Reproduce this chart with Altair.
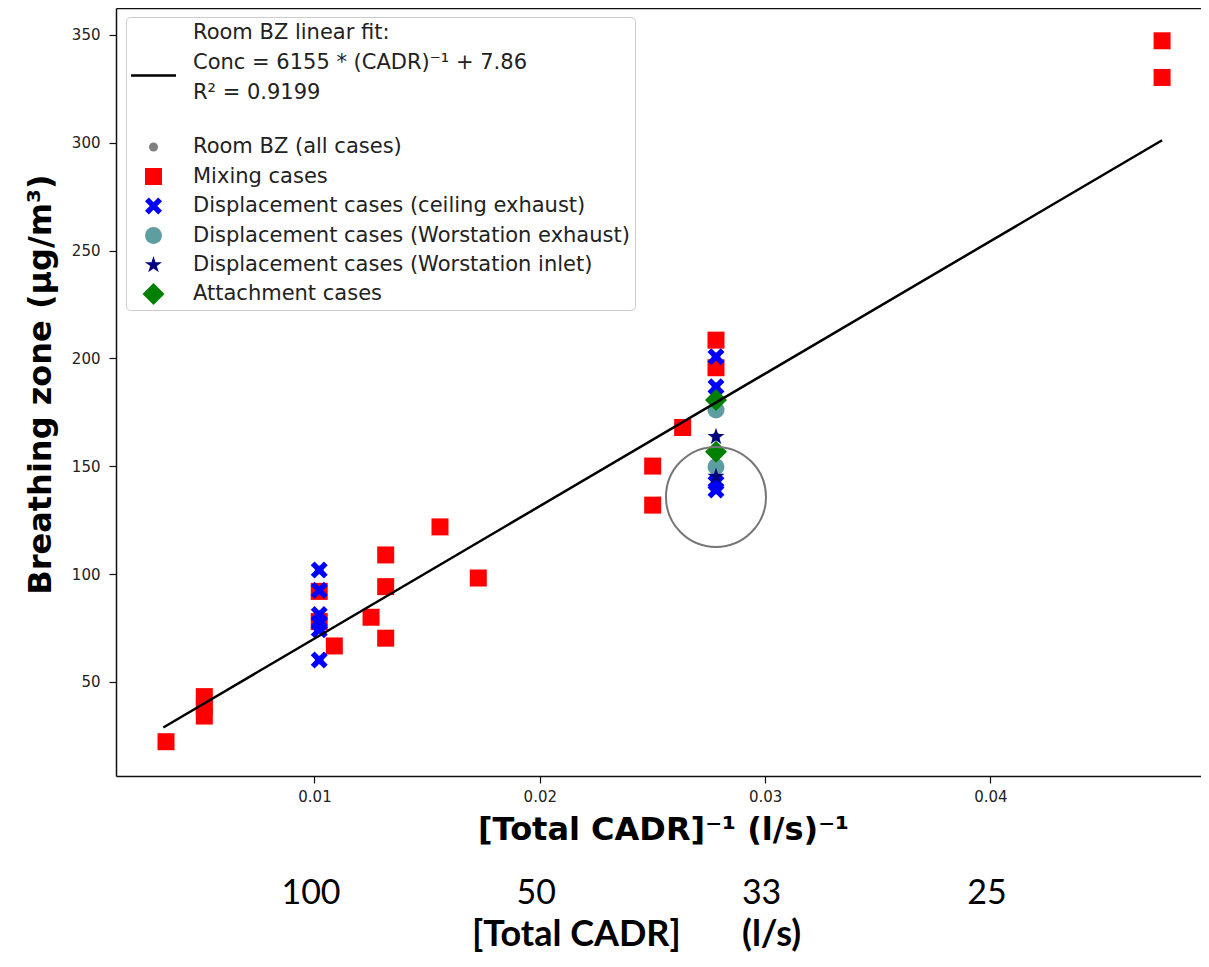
import altair as alt
import pandas as pd

# ---------------- data ----------------
# Mixing cases (red squares)
mix_x = [0.04762, 0.04762, 0.02782, 0.02782, 0.02634, 0.02501, 0.02501, 0.01557,
         0.01727, 0.01316, 0.01316, 0.01251, 0.01316, 0.01088, 0.01021, 0.01021,
         0.00511, 0.00511, 0.00511, 0.00341]
mix_y = [347.3, 330.3, 208.5, 195.7, 168.0, 150.1, 132.0, 121.9,
         98.2, 108.9, 94.2, 80.0, 70.3, 66.7, 92.0, 78.0,
         43.2, 38.7, 34.2, 22.3]
# Displacement cases (ceiling exhaust) (blue X)
ceil_x = [0.02782, 0.02782, 0.02782, 0.02782, 0.02782,
          0.01021, 0.01021, 0.01021, 0.01021, 0.01021, 0.01021]
ceil_y = [200.8, 186.9, 179.0, 142.3, 139.0,
          101.9, 92.5, 81.3, 77.5, 74.2, 60.2]
# Displacement cases (Worstation exhaust) (cadet blue circles)
wsex_x = [0.02782, 0.02782]
wsex_y = [176.1, 149.8]
# Displacement cases (Worstation inlet) (navy stars)
wsin_x = [0.02782, 0.02782]
wsin_y = [163.7, 145.2]
# Attachment cases (green diamonds)
att_x = [0.02782, 0.02782]
att_y = [180.7, 156.8]

# Linear fit line end points
fit_x = [0.00329, 0.04762]
fit_y = [28.9, 301.2]

# Highlight circle
ring_x = [0.02782]
ring_y = [135.8]

# Axis ticks / labels
x_ticks = [0.01, 0.02, 0.03, 0.04]
y_ticks = [50, 100, 150, 200, 250, 300, 350]
cadr_labels = ["100", "50", "33", "25"]

fit_lines = ["Room BZ linear fit:", "Conc = 6155 * (CADR)\u207b\u00b9 + 7.86", "R\u00b2 = 0.9199"]

series_names = ["Room BZ linear fit:", "Room BZ (all cases)", "Mixing cases",
                "Displacement cases (ceiling exhaust)",
                "Displacement cases (Worstation exhaust)",
                "Displacement cases (Worstation inlet)",
                "Attachment cases"]
series_colors = ["#000000", "#808080", "#ff0000", "#0000ff", "#5f9ea0", "#000080", "#008000"]

# legend handle for the fit line (drawn below the first label line, with an
# invisible point that reserves the blank gap under the entry)
LINE_PATH = "M-2.647,4.91L2.647,4.91L2.647,5.2L-2.647,5.2ZM-0.01,11.2L0.01,11.2Z"
X_PATH = ("M-1,-0.55L-0.55,-1L0,-0.45L0.55,-1L1,-0.55L0.45,0L1,0.55L0.55,1"
          "L0,0.45L-0.55,1L-1,0.55L-0.45,0Z")
STAR_PATH = ("M0,-1L0.225,-0.309L0.951,-0.309L0.363,0.118L0.588,0.809L0,0.382"
             "L-0.588,0.809L-0.363,0.118L-0.951,-0.309L-0.225,-0.309Z")
series_shapes = [LINE_PATH, "circle", "square", X_PATH, "circle", STAR_PATH, "diamond"]
series_sizes = [289, 81, 289, 289, 289, 324, 484]

# ---------------- tables ----------------
all_x = mix_x + ceil_x + wsex_x + wsin_x + att_x
all_y = mix_y + ceil_y + wsex_y + wsin_y + att_y
rows = []
for xs, ys, name in [(all_x, all_y, series_names[1]), (mix_x, mix_y, series_names[2]),
                     (ceil_x, ceil_y, series_names[3]), (wsex_x, wsex_y, series_names[4]),
                     (wsin_x, wsin_y, series_names[5]), (att_x, att_y, series_names[6])]:
    for a, b in zip(xs, ys):
        rows.append({"x": a, "y": b, "series": name})
df_pts = pd.DataFrame(rows)
df_fit = pd.DataFrame({"x": fit_x, "y": fit_y})
df_ring = pd.DataFrame({"x": ring_x, "y": ring_y})

# ---------------- scales / axes ----------------
xscale = alt.Scale(domain=[0.001190, 0.049347], nice=False, zero=False)
yscale = alt.Scale(domain=[6.4, 362.5], nice=False, zero=False)

FRAME = "#111111"
yaxis = alt.Axis(values=y_ticks, grid=False, domainColor=FRAME, domainWidth=1.5,
                 tickColor=FRAME, tickSize=7, tickWidth=1.2,
                 labelFont="DejaVu Sans", labelFontSize=15, labelColor="#222222", labelPadding=9,
                 title="Breathing zone (\u03bcg/m\u00b3)", titleFont="DejaVu Sans",
                 titleFontSize=32, titleFontWeight="bold", titleColor="black",
                 titleX=-76, titleY=376, titleBaseline="middle", titleAlign="center", titleAngle=270)

xaxis_main = alt.Axis(orient="bottom", values=x_ticks, format=".2f", grid=False,
                      domainColor=FRAME, domainWidth=1.5, tickColor=FRAME, tickSize=7, tickWidth=1.2,
                      labelFont="DejaVu Sans", labelFontSize=15, labelColor="#222222", labelPadding=6,
                      title="[Total CADR]\u207b\u00b9 (l/s)\u207b\u00b9", titleFont="DejaVu Sans",
                      titleFontSize=32, titleFontWeight="bold", titleColor="black",
                      titleX=547, titleY=63, titleBaseline="alphabetic", titleAlign="center")

label_list = "[" + ",".join("'" + s + "'" for s in cadr_labels) + "]"
xaxis_cadr = alt.Axis(orient="bottom", offset=100, values=x_ticks,
                      labelExpr=label_list + "[round(datum.value*100)-1]",
                      domain=False, ticks=False, grid=False, labelOffset=-4,
                      labelFont="Lato", labelFontSize=34, labelColor="black",
                      labelPadding=17, labelBaseline="middle",
                      title="[Total CADR]" + "\u00a0" * 7 + "(l/s)", titleFont="Lato",
                      titleFontSize=36, titleFontWeight="bold", titleColor="black",
                      titleX=520, titleY=69, titleBaseline="alphabetic", titleAlign="center")

xaxis_top = alt.Axis(orient="top", labels=False, ticks=False, grid=False, domain=True,
                     domainColor=FRAME, domainWidth=1.5, title=None)

fit_expr = ("datum.label == '" + fit_lines[0] + "' ? [" +
            ",".join("'" + s + "'" for s in fit_lines) + "] : datum.label")

legend = alt.Legend(title=None, orient="none", legendX=10, legendY=9, padding=5,
                    labelFont="DejaVu Sans", labelFontSize=21, labelColor="#222222",
                    labelLimit=1000, labelOffset=28.5, rowPadding=7.5, symbolOffset=11.5,
                    symbolStrokeWidth=0, symbolOpacity=1,
                    strokeColor="#cccccc", fillColor="white", cornerRadius=4,
                    labelExpr=fit_expr)

# ---------------- layers ----------------
fit = alt.Chart(df_fit).mark_line(color="black", strokeWidth=2.5).encode(
    x=alt.X("x:Q", scale=xscale, axis=xaxis_top),
    y=alt.Y("y:Q", scale=yscale, axis=yaxis),
)

points = alt.Chart(df_pts).mark_point(filled=True, opacity=1, strokeWidth=0).encode(
    x=alt.X("x:Q", scale=xscale, axis=xaxis_main),
    y=alt.Y("y:Q", scale=yscale, axis=yaxis),
    color=alt.Color("series:N", scale=alt.Scale(domain=series_names, range=series_colors),
                    legend=legend),
    shape=alt.Shape("series:N", scale=alt.Scale(domain=series_names, range=series_shapes)),
    size=alt.Size("series:N", scale=alt.Scale(type="ordinal", domain=series_names,
                                              range=series_sizes)),
)

ring = alt.Chart(df_ring).mark_point(shape="circle", filled=False, size=10000,
                                     color="#777777", strokeWidth=2, opacity=1).encode(
    x=alt.X("x:Q", scale=xscale, axis=xaxis_cadr),
    y=alt.Y("y:Q", scale=yscale, axis=yaxis),
)

chart = alt.layer(points, fit, ring).resolve_axis(x="independent").properties(
    width=1085, height=768,
    autosize=alt.AutoSizeParams(type="none"),
    padding={"left": 108, "top": 0, "right": 0, "bottom": 176},
    background="white",
)
chart.config = alt.Config(view=alt.ViewConfig(stroke="transparent"),
                          style={"guide-label": {"lineHeight": 30}})

chart.save("out.html", embed_options={"renderer": "svg", "actions": False})
